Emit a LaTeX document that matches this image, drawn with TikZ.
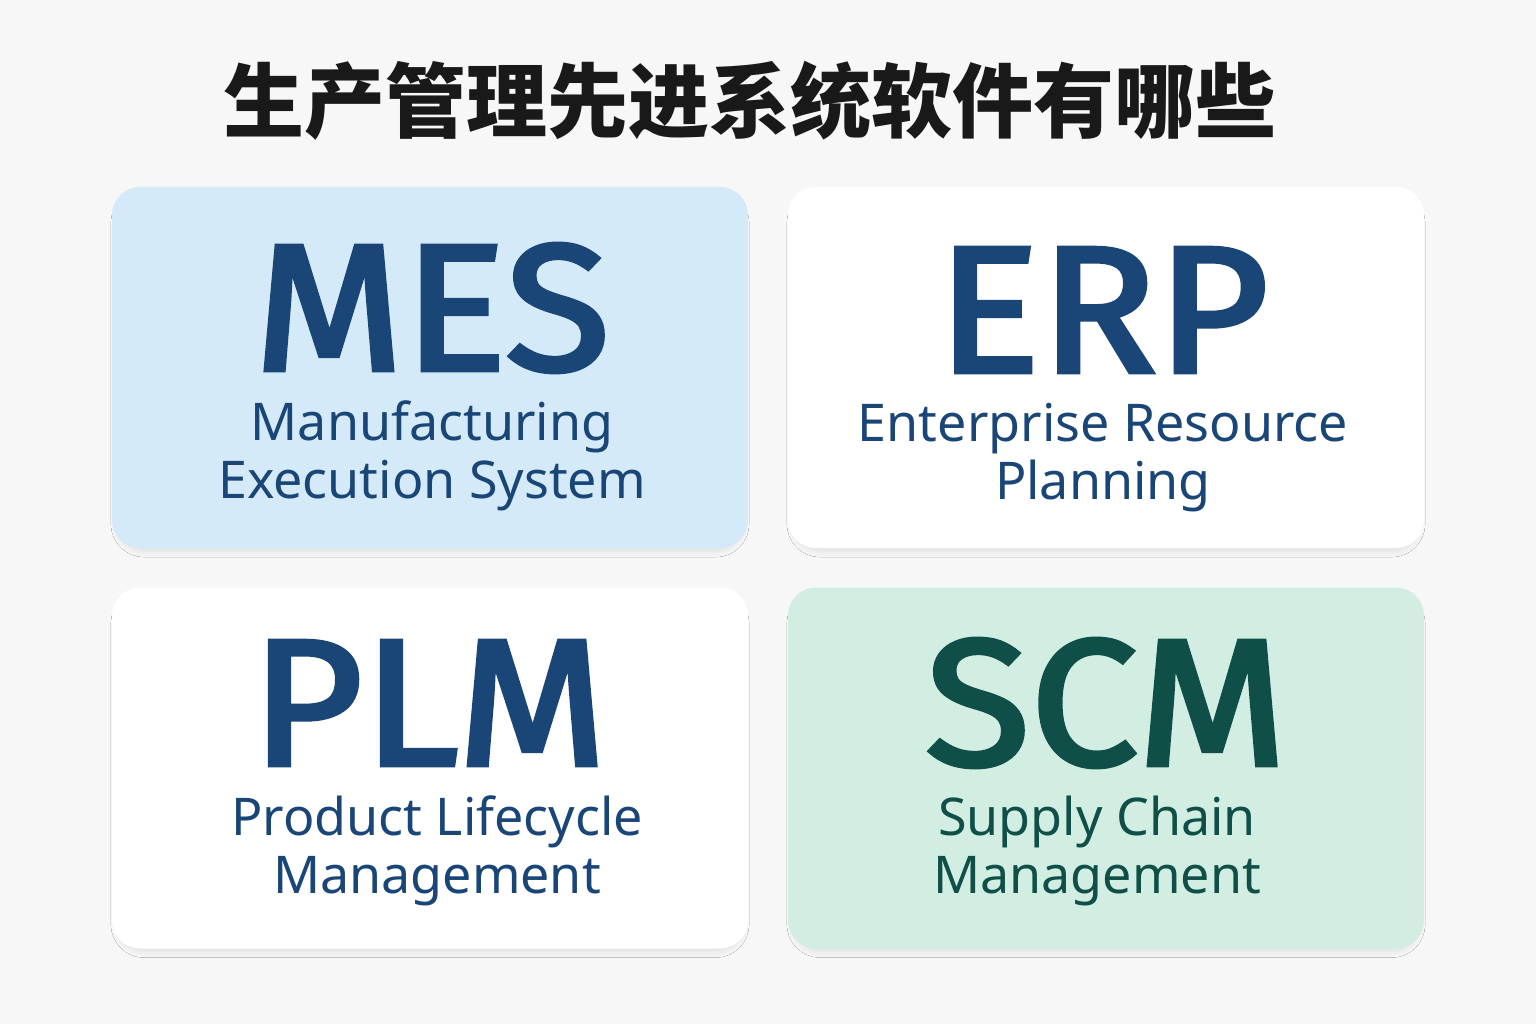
\documentclass[tikz,border=0pt]{standalone}
\usepackage{fontspec}
\setmainfont{Noto Sans}
\newfontfamily\acrofont{Fira Sans}[AutoFakeBold=2.5]
\newfontfamily\cjk{Noto Sans CJK SC}
\usepackage{tikz}
\usetikzlibrary{positioning, shadows.blur}
\definecolor{pagebg}{HTML}{F7F7F8}
\definecolor{mes_fill}{HTML}{D4EAF8}
\definecolor{scm_fill}{HTML}{D2EEE3}
\definecolor{dark_blue}{HTML}{1A4577}
\definecolor{dark_green}{HTML}{0F4F47}
\newcommand{\widen}[1]{\scalebox{1.07}[1]{#1}}
\tikzset{
  card/.style={rectangle,rounded corners=28pt,minimum width=636pt,minimum height=361pt,
    draw=none,blur shadow={shadow xshift=0pt,shadow yshift=-6pt,shadow scale=0.985,
    shadow blur radius=6pt,shadow blur steps=8,shadow opacity=10}},
  acro/.style={font=\acrofont\bfseries\fontsize{180}{180}\selectfont,inner sep=0pt,anchor=base},
  subline/.style={font=\fontsize{52}{58}\selectfont,align=center,inner sep=0pt},
  heading/.style={font=\cjk\bfseries\fontsize{81}{81}\selectfont,text=black!90,inner sep=0pt},
}
\begin{document}
\begin{tikzpicture}[x=1pt,y=-1pt]
	    \useasboundingbox[fill=pagebg] (0,0) rectangle (1536,1024);
	    \node[heading] (title) at (750,101) {生产管理先进系统软件有哪些};
	    % the four cards
	    \node[card,fill=mes_fill] (mes) at (430,367.5) {};
	    \node[card,fill=white] (erp) at (1106,367.5) {};
	    \node[card,fill=white] (plm) at (430,768) {};
	    \node[card,fill=scm_fill] (scm) at (1106,768) {};
	    % acronyms
	    \node[acro,text=dark_blue] (mesA) at (432,370) {\widen{MES}};
	    \node[acro,text=dark_blue] (erpA) at (1103,372) {\widen{ERP}};
	    \node[acro,text=dark_blue] (plmA) at (429,765) {\widen{PLM}};
	    \node[acro,text=dark_green] (scmA) at (1106,765) {\widen{SCM}};
	    % full names
	    \node[subline,text=dark_blue,below=31pt of mesA.base] (mesB) {Manufacturing\\Execution System};
	    \node[subline,text=dark_blue,below=31pt of erpA.base] (erpB) {Enterprise Resource\\Planning};
	    \node[subline,text=dark_blue,below=31pt of plmA.base,xshift=8pt] (plmB) {Product Lifecycle\\Management};
	    \node[subline,text=dark_green,below=31pt of scmA.base,xshift=-9pt] (scmB) {Supply Chain\\Management};
\end{tikzpicture}
\end{document}
